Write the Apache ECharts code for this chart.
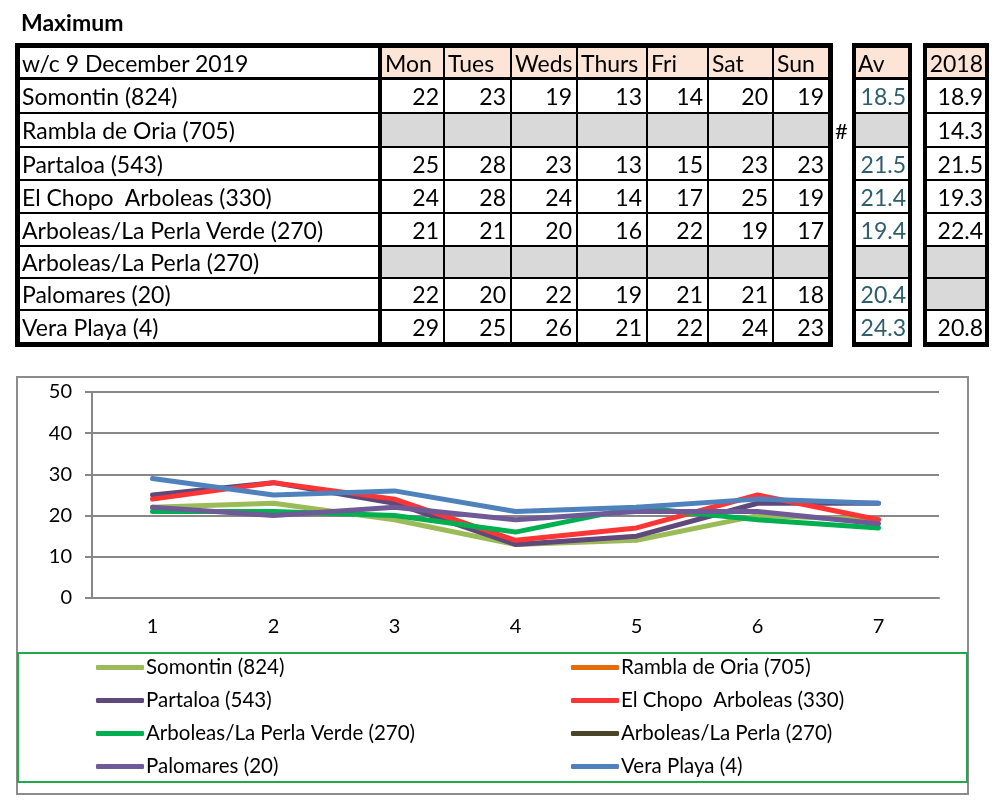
<!DOCTYPE html>
<html>
<head>
<meta charset="utf-8">
<script src="https://cdn.jsdelivr.net/npm/echarts@6/dist/echarts.min.js"></script>
<style>
  html, body { margin: 0; padding: 0; background: #fff; }
  #page { position: relative; width: 1005px; height: 800px; overflow: hidden; font-family: Lato, "Open Sans", sans-serif; }
  #chart { position: absolute; left: 0; top: 0; width: 1005px; height: 800px; }
  #table { position: absolute; left: 0; top: 0; width: 1005px; height: 360px; z-index: 2; }
  .blk { position: absolute; background: #000; }
  .cell { position: absolute; box-sizing: border-box; font-size: 23px; color: #000; white-space: pre; overflow: hidden; display: flex; align-items: center; }
  .title { position: absolute; left: 21px; top: 8px; font-size: 23px; font-weight: bold; }
</style>
</head>
<body>
<div id="page">
  <div id="chart"></div>
  <div id="table"></div>
</div>
<script>
// ---- data ----
const weekLabel = 'w/c 9 December 2019';
const dayLabels = ['Mon', 'Tues', 'Weds', 'Thurs', 'Fri', 'Sat', 'Sun'];
const stations = ['Somontin (824)', 'Rambla de Oria (705)', 'Partaloa (543)', 'El Chopo  Arboleas (330)',
                  'Arboleas/La Perla Verde (270)', 'Arboleas/La Perla (270)', 'Palomares (20)', 'Vera Playa (4)'];
const somontin     = [22, 23, 19, 13, 14, 20, 19];
const ramblaDeOria = [null, null, null, null, null, null, null];
const partaloa     = [25, 28, 23, 13, 15, 23, 23];
const elChopo      = [24, 28, 24, 14, 17, 25, 19];
const perlaVerde   = [21, 21, 20, 16, 22, 19, 17];
const perla        = [null, null, null, null, null, null, null];
const palomares    = [22, 20, 22, 19, 21, 21, 18];
const veraPlaya    = [29, 25, 26, 21, 22, 24, 23];
const averages     = ['18.5', '', '21.5', '21.4', '19.4', '', '20.4', '24.3'];
const year2018     = ['18.9', '14.3', '21.5', '19.3', '22.4', '', '', '20.8'];
const xCategories  = ['1', '2', '3', '4', '5', '6', '7'];
const yTicks       = { min: 0, max: 50, interval: 10 };
const seriesValues = [somontin, ramblaDeOria, partaloa, elChopo, perlaVerde, perla, palomares, veraPlaya];
const seriesColors = ['#9BBB59', '#E46C0A', '#5F497A', '#FF3535', '#00B050', '#4A452A', '#6E5A96', '#4F81BD'];

// ---- table layout ----
const tbl = document.getElementById('table');
function add(cls, x, y, w, h, html, style) {
  const d = document.createElement('div');
  d.className = cls;
  d.style.left = x + 'px'; d.style.top = y + 'px';
  d.style.width = w + 'px'; d.style.height = h + 'px';
  if (html !== undefined) d.textContent = html;
  if (style) Object.assign(d.style, style);
  tbl.appendChild(d);
  return d;
}
const t = document.createElement('div'); t.className = 'title'; t.textContent = 'Maximum'; tbl.appendChild(t);

const hLines = [[43,48],[77,80],[112,114],[146,148],[179,181],[212,214],[245,247],[277,279],[309,311],[342,347]];
const mainV = [[15,20],[378,382],[443,445],[510,512],[576,578],[646,648],[707,709],[772,774],[828,833]];
const avV = [[852,856],[908,912]];
const yrV = [[923,927],[985,989]];

function drawBlock(vl) {
  add('blk', vl[0][0], hLines[0][0], vl[vl.length-1][1] - vl[0][0], hLines[hLines.length-1][1] - hLines[0][0]);
}
drawBlock(mainV); drawBlock(avV); drawBlock(yrV);

const PEACH = '#FCE4D6', GREY = '#D9D9D9';
function cellRect(vl, ci, ri) {
  return { x: vl[ci][1], y: hLines[ri][1], w: vl[ci+1][0] - vl[ci][1], h: hLines[ri+1][0] - hLines[ri][1] };
}
function cell(vl, ci, ri, text, opts) {
  const r = cellRect(vl, ci, ri);
  const st = { background: opts.bg || '#fff', justifyContent: opts.align === 'right' ? 'flex-end' : 'flex-start',
               paddingLeft: (opts.pl || 0) + 'px', paddingRight: (opts.pr || 0) + 'px', color: opts.color || '#000' };
  add('cell', r.x, r.y, r.w, r.h, text, st);
}
// header row
cell(mainV, 0, 0, weekLabel, { pl: 2 });
dayLabels.forEach((d, i) => cell(mainV, i + 1, 0, d, { bg: PEACH, pl: 3 }));
cell(avV, 0, 0, 'Av', { bg: PEACH, pl: 2 });
cell(yrV, 0, 0, '2018', { bg: PEACH, align: 'right', pr: 2 });
// body rows
stations.forEach((s, ri) => {
  cell(mainV, 0, ri + 1, s, { pl: 2 });
  const vals = seriesValues[ri];
  vals.forEach((v, ci) => {
    if (v === null) cell(mainV, ci + 1, ri + 1, '', { bg: GREY });
    else cell(mainV, ci + 1, ri + 1, String(v), { align: 'right', pr: 4 });
  });
  if (averages[ri] === '') cell(avV, 0, ri + 1, '', { bg: GREY });
  else cell(avV, 0, ri + 1, averages[ri], { align: 'right', pr: 2, color: '#2E5E6B' });
  if (year2018[ri] === '') cell(yrV, 0, ri + 1, '', { bg: GREY });
  else cell(yrV, 0, ri + 1, year2018[ri], { align: 'right', pr: 2 });
});
// '#' marker beside the Rambla row
add('cell', 835, hLines[2][1], 18, hLines[3][0] - hLines[2][1], '#', { fontSize: '22px' });

// ---- chart ----
const chart = echarts.init(document.getElementById('chart'));
const FONT = 'Lato';
const AX = '#878787';
const leftNames = [stations[0], stations[2], stations[4], stations[6]];
const rightNames = [stations[1], stations[3], stations[5], stations[7]];
const legendBase = {
  orient: 'vertical', padding: 0, itemWidth: 48, itemHeight: 5, itemGap: 12, icon: 'roundRect',
  textStyle: { fontFamily: FONT, fontSize: 20.5, color: '#000', padding: [0, 0, 0, -3] },
  selectedMode: false
};
chart.setOption({
  animation: false,
  backgroundColor: 'transparent',
  graphic: [
    { type: 'rect', shape: { x: 17, y: 377, width: 951, height: 417 }, style: { fill: 'none', stroke: '#8C8C8C', lineWidth: 2 } },
    { type: 'rect', shape: { x: 18, y: 653, width: 949, height: 129 }, style: { fill: 'none', stroke: '#22A84A', lineWidth: 2 } }
  ],
  grid: { left: 92, right: 66, top: 392, bottom: 202, containLabel: false },
  legend: [
    Object.assign({}, legendBase, { left: 96, top: 657, data: leftNames }),
    Object.assign({}, legendBase, { left: 571, top: 657, data: rightNames })
  ],
  xAxis: {
    type: 'category', data: xCategories, boundaryGap: true,
    axisLine: { lineStyle: { color: AX, width: 2 } },
    axisTick: { length: 7, lineStyle: { color: AX, width: 2 } },
    axisLabel: { fontFamily: FONT, fontSize: 20, color: '#000', margin: 19 },
    splitLine: { show: false }
  },
  yAxis: {
    type: 'value', min: yTicks.min, max: yTicks.max, interval: yTicks.interval,
    axisLine: { show: true, lineStyle: { color: AX, width: 2 } },
    axisTick: { show: true, length: 7, lineStyle: { color: AX, width: 2 } },
    axisLabel: { fontFamily: FONT, fontSize: 20, color: '#000', margin: 20 },
    splitLine: { lineStyle: { color: AX, width: 2 } }
  },
  series: stations.map((name, i) => ({
    name: name, type: 'line', data: seriesValues[i], symbol: 'none', showSymbol: false,
    color: seriesColors[i],
    lineStyle: { color: seriesColors[i], width: 5, join: 'round', cap: 'round' },
    itemStyle: { color: seriesColors[i] },
    z: 2 + i
  }))
});
</script>
</body>
</html>
